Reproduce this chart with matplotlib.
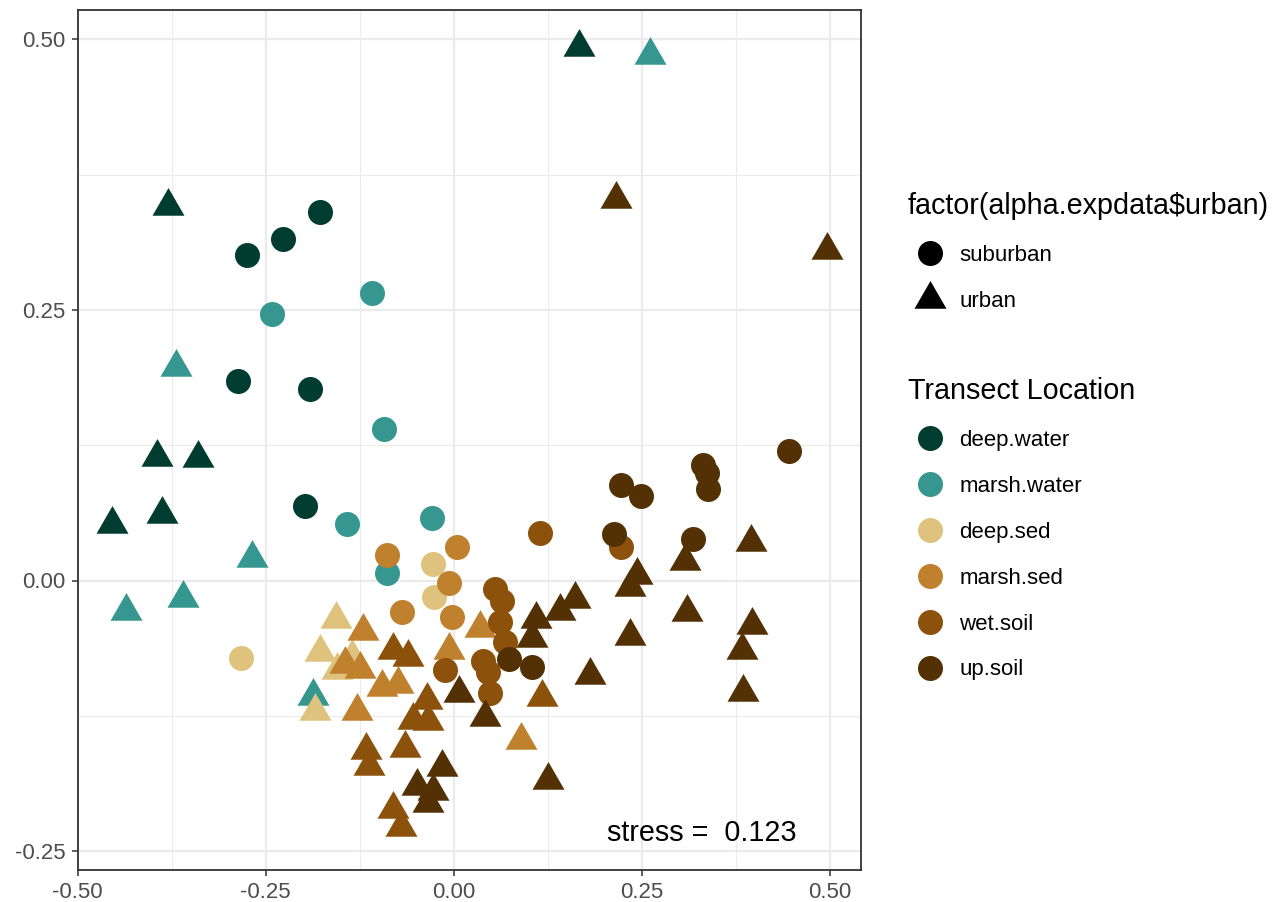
import numpy as np
import matplotlib
matplotlib.use("Agg")
import matplotlib.pyplot as plt
from matplotlib.path import Path
from matplotlib.lines import Line2D

plt.rcParams['font.family'] = ['Liberation Sans', 'DejaVu Sans']

# NMDS scores, split by transect location and urban class
locations = ["deep.water", "marsh.water", "deep.sed", "marsh.sed", "wet.soil", "up.soil"]
loc_colors = ["#003C30", "#35978F", "#DFC27D", "#BF812D", "#8C510A", "#543005"]

# suburban (circles)
sub_x = {
    "deep.water": [-0.178, -0.227, -0.275, -0.287, -0.191, -0.198],
    "marsh.water": [-0.109, -0.242, -0.093, -0.142, -0.029, -0.089],
    "deep.sed": [-0.283, -0.028, -0.026],
    "marsh.sed": [-0.089, 0.004, -0.006, -0.069, -0.002],
    "wet.soil": [0.115, 0.222, 0.055, 0.064, 0.061, 0.068, 0.039, 0.045, 0.048, -0.012],
    "up.soil": [0.446, 0.331, 0.337, 0.338, 0.222, 0.249, 0.213, 0.318, 0.073, 0.104],
}
sub_y = {
    "deep.water": [0.341, 0.316, 0.301, 0.184, 0.177, 0.069],
    "marsh.water": [0.266, 0.246, 0.140, 0.052, 0.058, 0.007],
    "deep.sed": [-0.072, 0.015, -0.015],
    "marsh.sed": [0.024, 0.031, -0.002, -0.029, -0.034],
    "wet.soil": [0.044, 0.031, -0.008, -0.019, -0.038, -0.057, -0.074, -0.085, -0.104, -0.083],
    "up.soil": [0.120, 0.107, 0.099, 0.085, 0.088, 0.078, 0.043, 0.038, -0.073, -0.080],
}

# urban (triangles)
urb_x = {
    "deep.water": [0.167, -0.380, -0.394, -0.340, -0.454, -0.388],
    "marsh.water": [0.261, -0.369, -0.268, -0.436, -0.360, -0.187],
    "deep.sed": [-0.157, -0.178, -0.184, -0.135, -0.155],
    "marsh.sed": [-0.121, -0.145, -0.125, -0.096, -0.074, -0.129, -0.006, 0.035, 0.089],
    "wet.soil": [-0.081, -0.061, -0.117, -0.113, -0.065, -0.054, -0.036, -0.034, -0.081, -0.070, 0.117],
    "up.soil": [0.216, 0.496, 0.395, 0.243, 0.234, 0.307, 0.310, 0.234, 0.396, 0.383, 0.384,
                0.181, 0.161, 0.141, 0.109, 0.104, 0.007, 0.041, 0.125, -0.016, -0.049, -0.028, -0.034],
}
urb_y = {
    "deep.water": [0.493, 0.346, 0.114, 0.113, 0.052, 0.061],
    "marsh.water": [0.486, 0.197, 0.021, -0.028, -0.016, -0.107],
    "deep.sed": [-0.036, -0.066, -0.121, -0.071, -0.083],
    "marsh.sed": [-0.047, -0.077, -0.082, -0.098, -0.096, -0.121, -0.064, -0.044, -0.147],
    "wet.soil": [-0.064, -0.071, -0.157, -0.171, -0.155, -0.129, -0.110, -0.130, -0.211, -0.228, -0.108],
    "up.soil": [0.353, 0.305, 0.036, 0.005, -0.006, 0.018, -0.029, -0.051, -0.041, -0.064, -0.103,
                -0.087, -0.017, -0.028, -0.036, -0.053, -0.104, -0.126, -0.184, -0.172, -0.190, -0.195, -0.206],
}

stress = 0.123
x_ticks = [-0.50, -0.25, 0.00, 0.25, 0.50]
y_ticks = [-0.25, 0.00, 0.25, 0.50]

# equilateral triangle centred on its centroid (ggplot shape 17)
h = np.sqrt(3) / 2
tri = Path([(0, 2 * h / 3), (-0.5, -h / 3), (0.5, -h / 3), (0, 2 * h / 3)],
           [Path.MOVETO, Path.LINETO, Path.LINETO, Path.CLOSEPOLY])

CIRC_S = 18 ** 2
TRI_MS = 26.6

fig = plt.figure(figsize=(12.81, 9.02), dpi=100)
ax = fig.add_axes([77.5 / 1281, 32 / 902, (861 - 77.5) / 1281, (870 - 10) / 902])

for loc, col in zip(locations, loc_colors):
    ax.scatter(sub_x[loc], sub_y[loc], s=CIRC_S, marker='o', color=col, linewidths=0, zorder=3)
    ax.scatter(urb_x[loc], urb_y[loc], s=TRI_MS ** 2, marker=tri, color=col, linewidths=0, zorder=3)

ax.text(0.330, -0.233, "stress =  %.3f" % stress, fontsize=20.7, ha='center', va='center', color='black')

x0, sx = 453.8, 752.4
y0, sy = 580.5, 1082.0
ax.set_xlim((77.5 - x0) / sx, (861 - x0) / sx)
ax.set_ylim((y0 - 870) / sy, (y0 - 10) / sy)

ax.set_xticks(x_ticks)
ax.set_xticklabels(["%.2f" % v for v in x_ticks])
ax.set_yticks(y_ticks)
ax.set_yticklabels(["%.2f" % v for v in y_ticks])
ax.set_xticks(np.arange(-0.375, 0.6, 0.25), minor=True)
ax.set_yticks(np.arange(-0.125, 0.5, 0.25), minor=True)
ax.tick_params(which='major', length=4.5, width=1.1, color='#333333', labelcolor='#4D4D4D',
               labelsize=16, pad=4)
ax.tick_params(which='minor', length=0)
ax.grid(which='major', color='#EBEBEB', linewidth=1.6)
ax.grid(which='minor', color='#EBEBEB', linewidth=0.8)
ax.set_axisbelow(True)
for sp in ax.spines.values():
    sp.set_color('#333333')
    sp.set_linewidth(1.3)

leg_kw = dict(loc='upper left', frameon=False, fontsize=16, title_fontsize=20.7, alignment='left',
              borderpad=0, handlelength=2.0, handletextpad=0.3, labelspacing=1.12)

# shape legend
shape_handles = [
    Line2D([], [], linestyle='none', marker='o', markersize=18, color='black', markeredgewidth=0),
    Line2D([], [], linestyle='none', marker=tri, markersize=TRI_MS, color='black', markeredgewidth=0),
]
leg1 = fig.legend(shape_handles, ["suburban", "urban"], title="factor(alpha.expdata$urban)",
                  bbox_to_anchor=(897 / 1281, 1 - 181 / 902), **leg_kw)

# colour legend
col_handles = [Line2D([], [], linestyle='none', marker='o', markersize=18, color=c, markeredgewidth=0)
               for c in loc_colors]
leg2 = fig.legend(col_handles, locations, title="Transect Location",
                  bbox_to_anchor=(897 / 1281, 1 - 366 / 902), **leg_kw)

fig.savefig("out.png", dpi=100)
